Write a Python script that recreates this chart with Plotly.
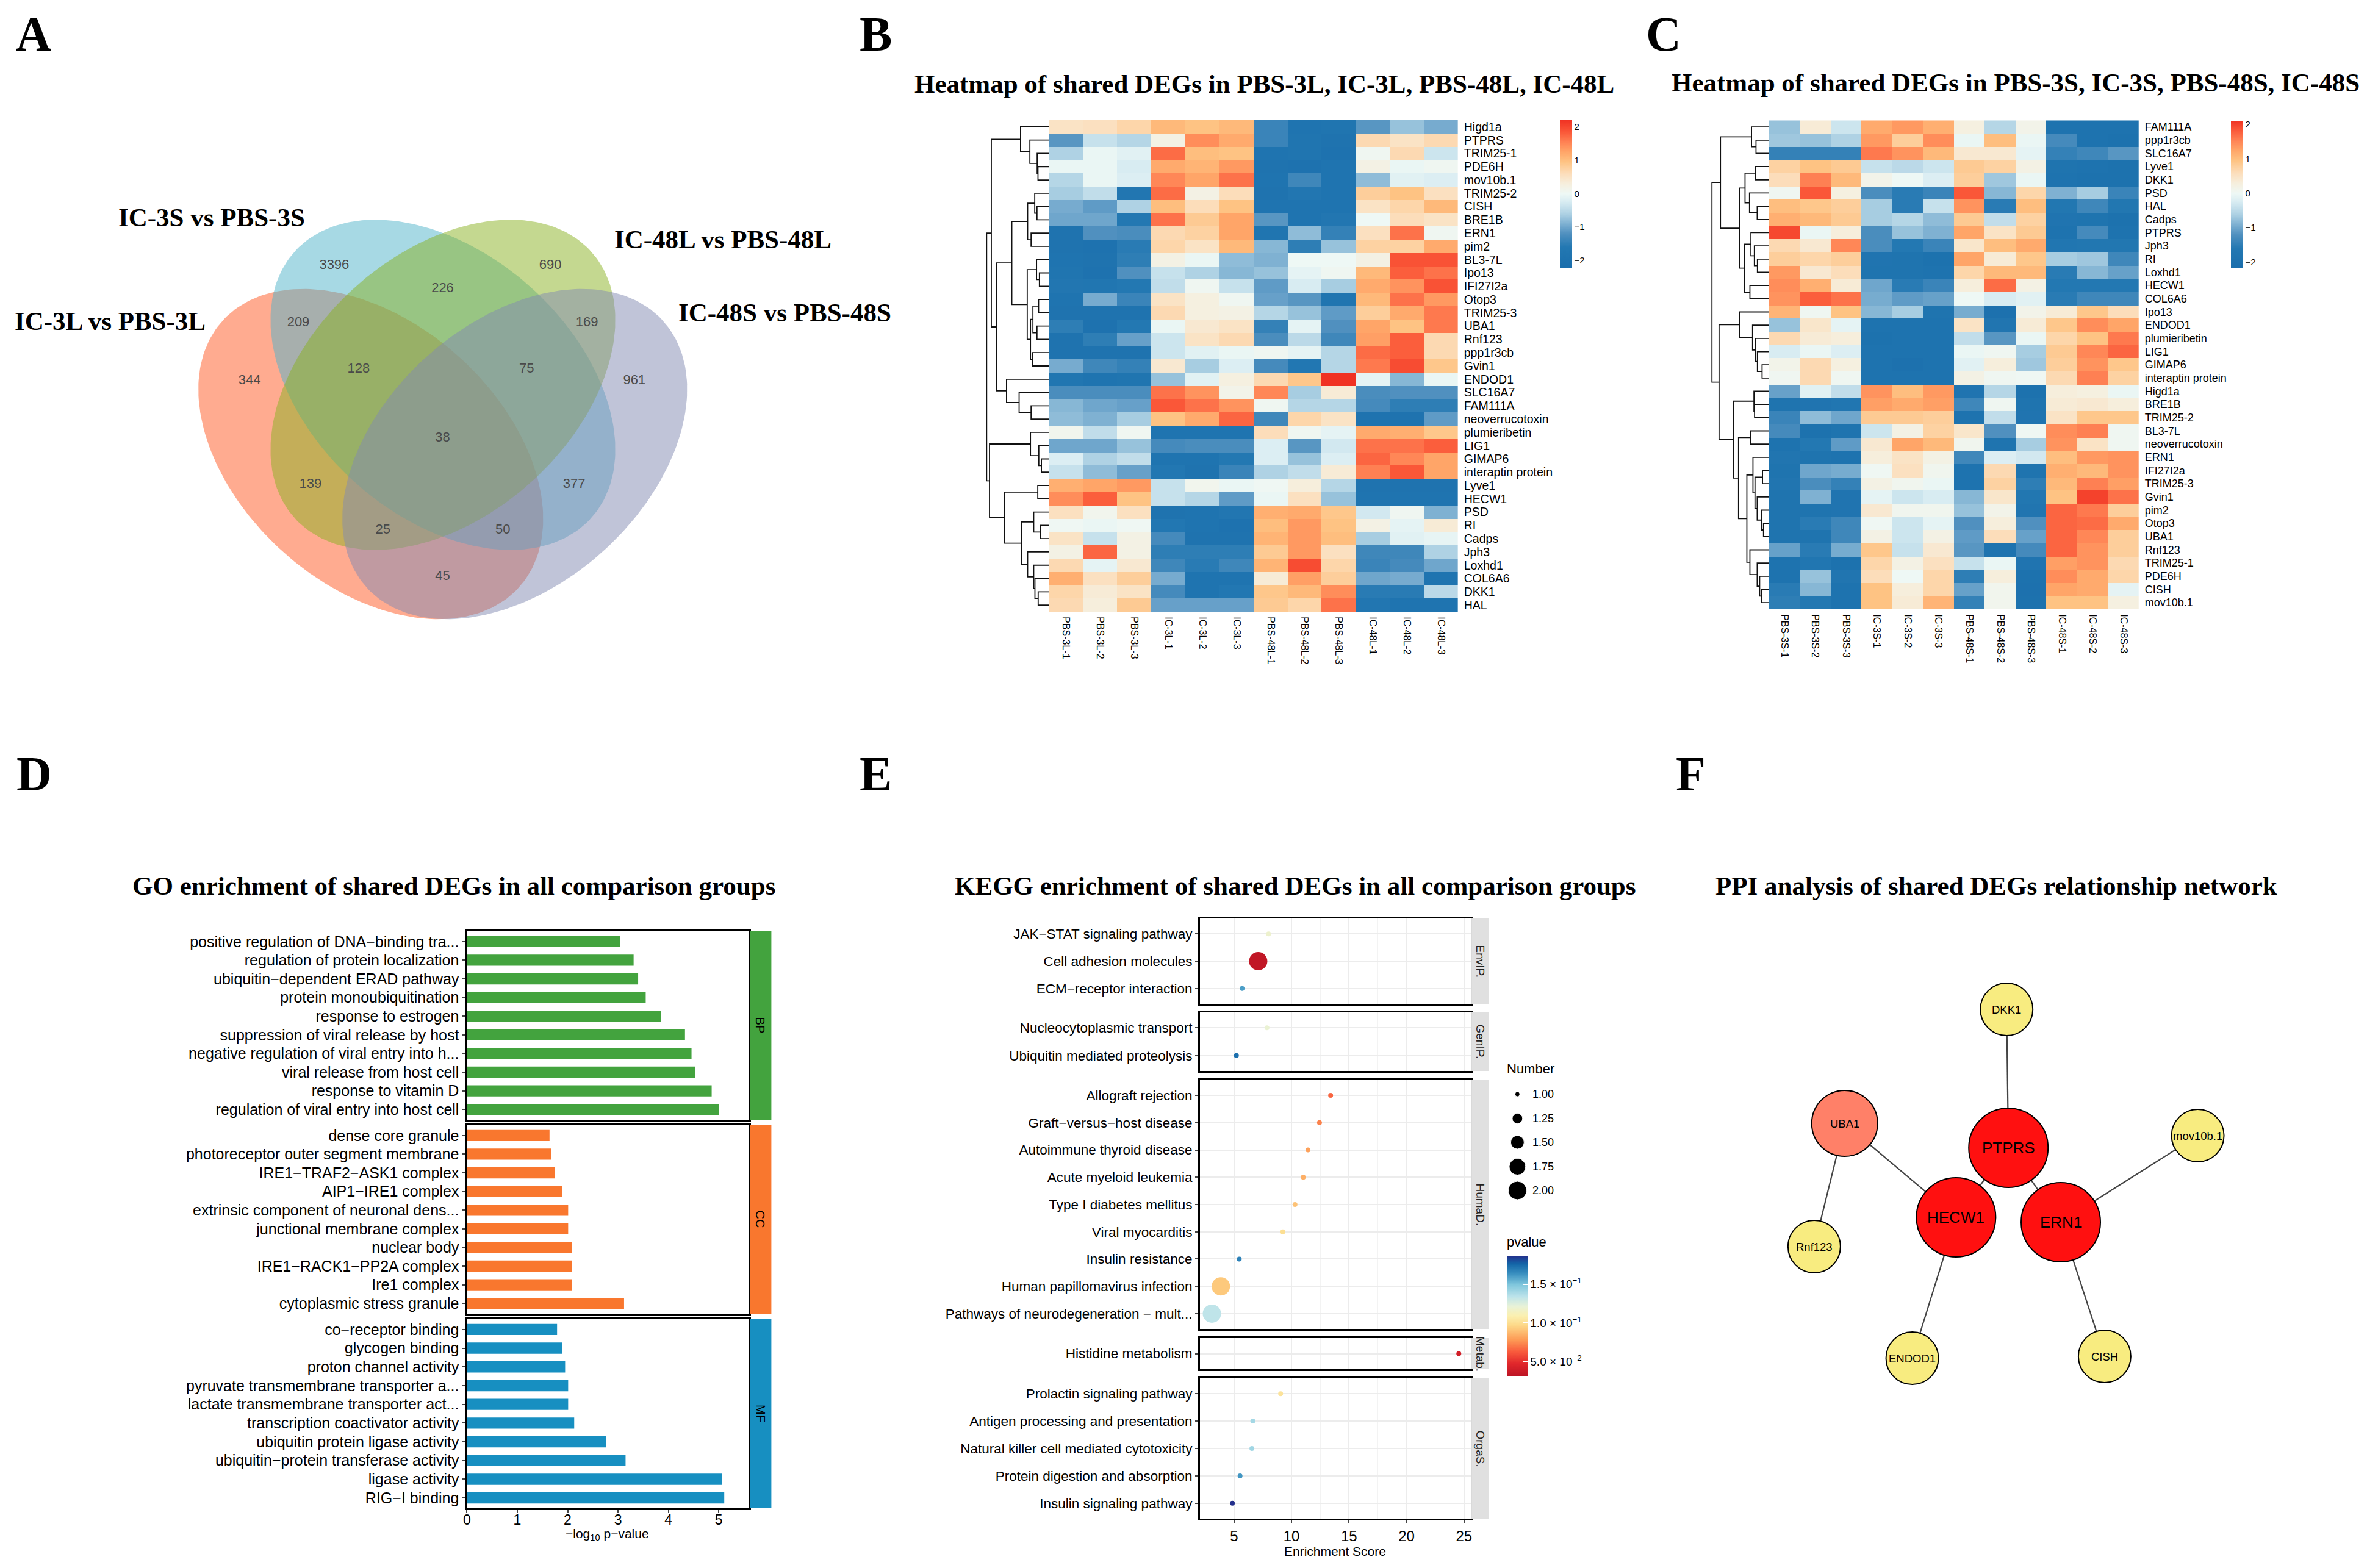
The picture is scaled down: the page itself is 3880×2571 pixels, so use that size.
import numpy as np
import plotly.graph_objects as go

W, H = 3880, 2571
SANS = "Liberation Sans"
SERIF = "Liberation Serif"

# ---------------- DATA ----------------
venn_labels = ["IC-3L vs PBS-3L", "IC-3S vs PBS-3S", "IC-48L vs PBS-48L", "IC-48S vs PBS-48S"]
venn_counts = [3396, 690, 226, 209, 169, 344, 128, 75, 961, 38, 139, 377, 25, 50, 45]

genes_b = ["Higd1a","PTPRS","TRIM25-1","PDE6H","mov10b.1","TRIM25-2","CISH","BRE1B","ERN1","pim2","BL3-7L","Ipo13","IFI27I2a","Otop3","TRIM25-3","UBA1","Rnf123","ppp1r3cb","Gvin1","ENDOD1","SLC16A7","FAM111A","neoverrucotoxin","plumieribetin","LIG1","GIMAP6","interaptin protein","Lyve1","HECW1","PSD","RI","Cadps","Jph3","Loxhd1","COL6A6","DKK1","HAL"]
samples_b = ["PBS-3L-1","PBS-3L-2","PBS-3L-3","IC-3L-1","IC-3L-2","IC-3L-3","PBS-48L-1","PBS-48L-2","PBS-48L-3","IC-48L-1","IC-48L-2","IC-48L-3"]
values_b = [
[.5,.55,.7,1.05,.95,1.05,-1.4,-1.85,-1.8,-1.15,-.75,-.95],
[-1.15,-.4,-.55,.2,1.45,1.2,-1.4,-1.8,-1.9,.65,.5,.65],
[-.6,-.05,-.15,1.7,1,.95,-1.85,-1.8,-1.95,.05,.65,-.35],
[-.05,-.05,-.25,1.2,1.1,1.35,-1.9,-1.95,-1.85,.2,-.05,.05],
[-.55,-.05,-.2,1.5,1.25,1.65,-1.85,-1.35,-1.85,-.8,-.15,-.2],
[-.65,-.45,-1.7,1.7,.2,.6,-1.9,-1.7,-1.85,.8,.95,.55],
[-.95,-1.1,-.6,1,.6,.95,-1.85,-1.85,-1.85,.5,.7,1.05],
[-1,-1,-1.6,1.65,.85,1.25,-1.15,-1.85,-1.7,0,.6,.5],
[-1.9,-1.2,-1.25,.65,.75,1.25,-1.8,-.8,-1.45,.55,1.65,.05],
[-1.9,-1.95,-1.55,.7,.5,1.05,-.85,-1.5,-.75,.75,.75,1.2],
[-1.85,-1.9,-1.5,.2,-.05,-.8,-.9,0,0,.2,1.9,1.9],
[-1.8,-1.95,-1.2,-.4,-.6,-.85,-.75,-.1,.05,1.05,1.8,1.65],
[-1.7,-1.75,-1.6,-.45,.05,-.4,-1.1,-.25,-.65,1.2,1.4,1.9],
[-1.85,-.95,-1.4,.5,.25,.05,-1.05,-1.15,-1.8,1.05,1.65,1.35],
[-1.9,-1.9,-1.9,.65,.25,.2,-.55,-.75,-1.1,.8,1.2,1.6],
[-1.5,-1.95,-1.6,-.05,.4,.5,-1.45,-.1,-1.2,1.25,.95,1.6],
[-1.9,-1.5,-1.05,-.35,.5,.65,-1.25,-.5,-1.35,1.3,1.8,.65],
[-1.9,-1.9,-1.9,-.35,-.15,-.05,.05,-.1,-.55,1.7,1.8,.65],
[-.95,-1.35,-1.45,.4,-.65,-.2,-1.3,-1.65,-.55,1.6,1.95,.9],
[-1.75,-1.85,-1.8,-.75,-.15,.25,.65,.9,2.2,-.1,-.85,-.05],
[-1.25,-1.25,-1.25,1.65,1.4,.15,1.5,-.65,.35,-1.25,-1.2,-1.2],
[-.85,-1,-1.05,1.85,1.65,1.4,.05,-.55,-.55,-1.3,-1.5,-1.5],
[-.8,-.9,-.65,.95,1.2,1.75,-1.35,.7,.5,-1.9,-1.9,-1.1],
[.1,-.45,.05,-1.85,-1.85,-1.85,.6,.05,-.1,1.2,1.15,.9],
[-1,-1,-.75,-1.3,-1.25,-1.25,-.2,-1.15,-.3,1.65,1.65,1.8],
[-.2,-.6,-.45,-1.85,-1.85,-1.6,-.2,-.75,-.2,1.75,1.5,1.25],
[-.4,-.8,-1.05,-1.65,-1.9,-1.4,-.6,-.45,.35,1.55,1.85,1.25],
[1.15,1.25,1.35,-.4,.1,-.05,.02,.3,-.55,-1.9,-1.9,-1.9],
[1.45,1.8,.95,-.4,-.55,-1.1,-.05,.55,-.75,-1.85,-1.85,-1.85],
[.55,.1,.55,-1.9,-1.85,-1.7,1.15,1.2,.9,-.3,.05,-.9],
[.02,-.05,.02,-1.65,-1.85,-1.95,1,1.35,.95,.2,-.1,.35],
[.5,-.4,.2,-1.3,-1.9,-1.9,1.1,1.35,1,-.65,-.15,-.08],
[.2,1.75,.2,-1.5,-1.5,-1.5,.85,1.35,.55,-1.35,-1.35,-.6],
[.65,-.1,.4,-1.35,-1.55,-1.35,1.1,1.95,.7,-1.4,-1.3,-1],
[1.15,.55,.8,-.95,-1.85,-1.85,.35,1.3,.8,-1,-.95,-1.85],
[.7,.35,.5,-1.3,-1.85,-1.65,.9,1.05,1.45,-1.55,-1.55,-.5],
[.65,.3,.85,-1.05,-1.05,-1.05,.85,.7,1.65,-1.7,-1.85,-1.85],
]
# dendrogram merge trees: (merge height, child, child); integers are leaf rows
tree_b = (308,
  (285,
    (141, 0, (95, 1, (59, 2, (55, 3, 4)))),
    (259,
      (184,
        (106, (71, 5, (60, 6, 7)), (89, 8, 9)),
        (108, (62, 10, (48, 11, 12)), (92, (80, (52, 13, 14), (60, 15, 16)), (82, 17, 18)))),
      (210, 19, (148, 20, (89, 21, 22))))),
  (294,
    (92, 23, (51, 24, (38, 25, 26))),
    (221,
      (56, 27, 28),
      (136,
        (76, 29, (43, 30, 31)),
        (106, 32, (76, 33, (70, 34, (54, 35, 36))))))))

genes_c = ["FAM111A","ppp1r3cb","SLC16A7","Lyve1","DKK1","PSD","HAL","Cadps","PTPRS","Jph3","RI","Loxhd1","HECW1","COL6A6","Ipo13","ENDOD1","plumieribetin","LIG1","GIMAP6","interaptin protein","Higd1a","BRE1B","TRIM25-2","BL3-7L","neoverrucotoxin","ERN1","IFI27I2a","TRIM25-3","Gvin1","pim2","Otop3","UBA1","Rnf123","TRIM25-1","PDE6H","CISH","mov10b.1"]
samples_c = ["PBS-3S-1","PBS-3S-2","PBS-3S-3","IC-3S-1","IC-3S-2","IC-3S-3","PBS-48S-1","PBS-48S-2","PBS-48S-3","IC-48S-1","IC-48S-2","IC-48S-3"]
values_c = [
[-.75,.35,-.35,1.2,1.35,1.15,.25,-.55,.15,-1.9,-1.9,-1.9],
[-.7,-.75,-.6,1.35,.8,1.45,-.05,1,-.05,-1.3,-1.9,-1.95],
[-1.45,-1.45,-1.45,1.6,1.4,1.05,.4,.4,-.1,-1.45,-1.35,-1.15],
[.75,.95,.85,-.4,-.5,-.35,.85,.75,.2,-1.85,-1.9,-1.95],
[.6,1.55,1.05,.15,0,-.2,.8,-.7,-.05,-1.9,-1.95,-1.95],
[.05,1.85,.25,-1.25,-1.55,-1.4,1.85,-.85,.7,-.9,-.65,-1.4],
[1,.9,.8,-.65,-1.55,-.4,1.4,-1.55,1,-1.65,-1.35,-1.65],
[1.15,1.05,.85,-.65,-.55,-.8,.85,-.45,.75,-1.8,-1.85,-1.95],
[1.95,-.05,.3,-1.25,-.75,-.9,1.25,.5,.85,-1.9,-1.3,-1.9],
[.65,.4,1.5,-1.25,-1.6,-1.4,.45,1,1.2,-1.7,-1.65,-1.65],
[.8,.7,.8,-1.8,-1.85,-1.95,1.25,.35,.9,-.65,-.7,-1.35],
[1.35,.4,.6,-1.85,-1.85,-1.9,.7,1.05,1.05,-1.55,-.85,-1.05],
[1.45,1.15,.35,-1,-1.55,-1.4,.3,1.7,.2,-1.6,-1.6,-1.6],
[1.4,1.8,1.65,-.95,-1.1,-1.05,0,-.25,-.15,-1.55,-1.35,-1.35],
[1.1,.05,.95,-.85,-.65,-1.85,-.95,-2,.15,.35,.9,.6],
[-.75,.45,-.1,-1.9,-1.9,-1.9,.5,-1.75,.35,.9,1.45,1.25],
[.65,.35,.3,-1.95,-1.9,-1.9,-.45,-1.15,-.05,.7,.95,1.6],
[-.25,-.05,-.2,-1.9,-1.9,-1.9,-.05,.05,-.65,.85,1.5,1.75],
[.15,.65,.25,-1.9,-2,-1.9,-.15,.3,-.7,.8,1.4,.9],
[.05,.65,.05,-1.9,-1.9,-1.9,.2,.05,.02,.65,1.55,.75],
[-1.05,-.15,-.45,1.4,1,1.35,-1.8,-.55,-1.95,.3,.25,-.05],
[-1.85,-1.8,-1.7,1.3,1.2,1.3,-1.35,.05,-1.85,.35,.4,.3],
[-1.4,-.8,-1,.85,.85,.8,-1.9,-.45,-1.8,.5,.9,.9],
[-1.3,-1.95,-1.85,-.35,.2,.75,.45,-1.2,.02,1.45,1.55,.05],
[-1.9,-1.6,-1.1,.4,1.25,1.05,.08,-1.85,-.65,1.4,.5,.05],
[-1.75,-1.85,-1.9,.3,.5,.2,-1.35,-.2,-.3,1,1.35,1.4],
[-1.85,-1,-.95,.02,.55,.08,-1.9,.65,-1.85,1.15,1.05,1.4],
[-1.75,-1.25,-1.45,.2,.08,-.05,-1.9,.75,-1.5,1.05,1.55,1.3],
[-1.85,-.9,-1.8,-.1,-.35,-.25,-.85,.45,-1.65,.95,2,1.65],
[-1.85,-1.85,-1.8,.4,.08,.08,-.75,.15,-1.75,1.75,1.6,.8],
[-1.85,-1.55,-1.35,.02,-.35,-.1,-1.2,.3,-1.2,1.75,1.7,1.2],
[-1.85,-1.85,-1.35,.2,-.35,.2,-1.1,.6,-1.05,1.75,1.5,.8],
[-1.05,-1.55,-.95,.9,-.4,.4,-1.15,-1.9,-1.3,1.75,1.4,.8],
[-1.9,-1.7,-1.95,.7,.2,.55,-.4,-.05,-1.8,1.3,1.4,.65],
[-1.9,-.75,-1.75,.6,0,.7,-1.5,.3,-1.95,1.45,1.2,.7],
[-1.55,-.85,-1.9,.95,.3,.7,-1.05,.1,-2,1.25,1.2,-.1],
[-1.5,-1.6,-1.9,.95,.35,1.1,-1.45,.1,-1.95,.95,.95,.25],
]
tree_c = (281,
  (239,
    (86, 0, (64, 1, 2)),
    (145,
      (118, (67, 3, 4), (96, 5, (58, 6, 7))),
      (121, (89, 8, (72, 9, (57, 10, 11))), (94, 12, 13)))),
  (246,
    (145, 14, (81, 15, (66, 16, (57, 17, (34, 18, 19))))),
    (176,
      (74, 20, (71, 21, 22)),
      (150,
        (91, 23, 24),
        (109,
          (79, 25, (69, (32, 26, 27), (58, 28, (38, 29, (27, 30, 31))))),
          (94, 32, (58, 33, (46, 34, (36, 35, 36)))))))))

go_bp_terms = ["positive regulation of DNA−binding tra...","regulation of protein localization","ubiquitin−dependent ERAD pathway","protein monoubiquitination","response to estrogen","suppression of viral release by host","negative regulation of viral entry into h...","viral release from host cell","response to vitamin D","regulation of viral entry into host cell"]
go_bp_values = [3.04,3.31,3.40,3.55,3.85,4.33,4.46,4.53,4.86,5.0]
go_cc_terms = ["dense core granule","photoreceptor outer segment membrane","IRE1−TRAF2−ASK1 complex","AIP1−IRE1 complex","extrinsic component of neuronal dens...","junctional membrane complex","nuclear body","IRE1−RACK1−PP2A complex","Ire1 complex","cytoplasmic stress granule"]
go_cc_values = [1.64,1.67,1.74,1.89,2.01,2.01,2.09,2.09,2.09,3.12]
go_mf_terms = ["co−receptor binding","glycogen binding","proton channel activity","pyruvate transmembrane transporter a...","lactate transmembrane transporter act...","transcription coactivator activity","ubiquitin protein ligase activity","ubiquitin−protein transferase activity","ligase activity","RIG−I binding"]
go_mf_values = [1.79,1.89,1.95,2.01,2.01,2.13,2.76,3.15,5.06,5.11]

kegg_envip = ["JAK−STAT signaling pathway","Cell adhesion molecules","ECM−receptor interaction"]
kegg_envip_score = [8.0,7.1,5.7]
kegg_envip_p = [.118,.033,.16]
kegg_envip_n = [1,2,1]
kegg_genip = ["Nucleocytoplasmic transport","Ubiquitin mediated proteolysis"]
kegg_genip_score = [7.86,5.2]
kegg_genip_p = [.12,.173]
kegg_genip_n = [1,1]
kegg_humad = ["Allograft rejection","Graft−versus−host disease","Autoimmune thyroid disease","Acute myeloid leukemia","Type I diabetes mellitus","Viral myocarditis","Insulin resistance","Human papillomavirus infection","Pathways of neurodegeneration − mult..."]
kegg_humad_score = [13.4,12.43,11.43,11.02,10.3,9.24,5.45,3.85,3.07]
kegg_humad_p = [.065,.072,.08,.084,.09,.10,.168,.092,.133]
kegg_humad_n = [1,1,1,1,1,1,1,2,2]
kegg_metab = ["Histidine metabolism"]
kegg_metab_score = [24.55]
kegg_metab_p = [.04]
kegg_metab_n = [1]
kegg_orgas = ["Prolactin signaling pathway","Antigen processing and presentation","Natural killer cell mediated cytotoxicity","Protein digestion and absorption","Insulin signaling pathway"]
kegg_orgas_score = [9.05,6.63,6.55,5.52,4.85]
kegg_orgas_p = [.102,.14,.141,.162,.187]
kegg_orgas_n = [1,1,1,1,1]
number_levels = [1.0,1.25,1.5,1.75,2.0]

ppi_nodes = ["DKK1","UBA1","PTPRS","mov10b.1","HECW1","ERN1","Rnf123","ENDOD1","CISH"]
ppi_edges = [("DKK1","PTPRS"),("PTPRS","HECW1"),("PTPRS","ERN1"),("UBA1","HECW1"),("UBA1","Rnf123"),("HECW1","ENDOD1"),("ERN1","CISH"),("ERN1","mov10b.1")]
ppi_degree = [1,2,3,1,3,3,1,1,1]

# ---------------- LAYOUT / STYLE ----------------
ppi_x = [3290,3024,3293,3604,3207,3379,2974,3135,3451]
ppi_y = [1655,1842,1882,1862,1996,2004,2044,2227,2224]
ppi_color = {1:"#F8EC80",2:"#FF8068",3:"#FF1010"}
ppi_size = {1:86,2:108,3:130}
ppi_font = {1:18.5,2:18.5,3:26}

venn_colors = ["rgba(255,87,33,.5)","rgba(79,179,201,.5)","rgba(137,177,33,.5)","rgba(129,137,177,.5)"]
venn_centers = [(603,744.5),(721.5,631),(721.5,631),(839.5,744.5)]
venn_tilt = [1,1,-1,-1]
venn_count_x = [543,898,721,484,958,404,583,859,1036,721,504,937,623,820,721]
venn_count_y = [435,435,473,529,529,624,605,605,624,718,794,794,869,869,945]
size_levels = [8,17,22,27,30]

heat_anchor_v = [-2.2,-1.6,-1.2,-1.0,-.6,-.25,0,.3,.6,.95,1.25,1.5,1.85,2.2]
heat_anchor_c = ["#1A6EAC","#2378B2","#5090BF","#6FA6CC","#AFD2E4","#D8ECF2","#EEF8F5","#F6EEDC","#FCDDBA","#FEC383","#FFA568","#FF8757","#FA5738","#F03223"]
pval_scale = [[0,"#BD1525"],[.1,"#E0262B"],[.2,"#F85A3C"],[.3,"#FD9A55"],[.42,"#FDD888"],[.5,"#FBF0B0"],[.58,"#E8F2D8"],[.66,"#BCE3EA"],[.76,"#7FC6DC"],[.85,"#3A90C0"],[.93,"#1366A8"],[1,"#232F8C"]]

def hx(x): return x/W
def hy(y): return 1-y/H

fig = go.Figure()
layout = dict(width=W, height=H, margin=dict(l=0,r=0,t=0,b=0), paper_bgcolor="white", plot_bgcolor="rgba(0,0,0,0)", showlegend=False, font=dict(family=SANS,color="black"))
shapes, annos = [], []
_n = [1]
def new_axes(x0,x1,y0,y1,xa=None,ya=None):
    _n[0]+=1
    n=_n[0]
    xd=dict(domain=[hx(x0),hx(x1)],anchor=f"y{n}")
    yd=dict(domain=[hy(y1),hy(y0)],anchor=f"x{n}")
    xd.update(xa or {}); yd.update(ya or {})
    layout[f"xaxis{n}"]=xd; layout[f"yaxis{n}"]=yd
    return f"x{n}",f"y{n}"

layout["xaxis"]=dict(domain=[0,1],range=[0,W],visible=False,fixedrange=True)
layout["yaxis"]=dict(domain=[0,1],range=[H,0],visible=False,fixedrange=True)

def text(x,y,t,size,family=SANS,anchor="left",bold=False,color="black",angle=0):
    annos.append(dict(x=x,y=y,xref="x",yref="y",text=f"<b>{t}</b>" if bold else t,showarrow=False,xanchor=anchor,yanchor="middle",
                      font=dict(family=family,size=size,color=color),textangle=angle,borderpad=0,borderwidth=0))

# panel letters + titles
for t,x,y in [("A",20,56),("B",1406,56),("C",2698,56),("D",21,1269),("E",1406,1269),("F",2747,1269)]:
    text(x,y,t,80,SERIF,bold=True)
for t,x0,x1,y in [("Heatmap of shared DEGs in PBS-3L, IC-3L, PBS-48L, IC-48L",1502,2640,137),
                ("Heatmap of shared DEGs in PBS-3S, IC-3S, PBS-48S, IC-48S",2744,3865,135),
                ("GO enrichment of shared DEGs in all comparison groups",215,1264,1452),
                ("KEGG enrichment of shared DEGs in all comparison groups",1566,2677,1452),
                ("PPI analysis of shared DEGs relationship network",2815,3731,1452)]:
    text((x0+x1)/2,y,t,43,SERIF,anchor="center",bold=True)

# ---- Venn
a,b=327,216
sx,sy=1.022,.977
t=np.linspace(0,2*np.pi,241)
for (cx,cy),s,c in zip(venn_centers,venn_tilt,venn_colors):
    u,v=a*np.cos(t),b*np.sin(t)
    ex=cx+sx*s*(u-v)/np.sqrt(2)
    ey=cy+sy*(u+v)/np.sqrt(2)
    fig.add_trace(go.Scatter(x=ex.tolist(),y=ey.tolist(),mode="lines",fill="toself",fillcolor=c,line=dict(width=0),xaxis="x",yaxis="y",hoverinfo="skip"))
fig.add_trace(go.Scatter(x=venn_count_x,y=venn_count_y,mode="text",text=[str(v) for v in venn_counts],textposition="middle center",textfont=dict(family=SANS,size=22,color="#4a4a4a"),xaxis="x",yaxis="y"))
for t_,x,y in zip(venn_labels,[18,188,1003,1108],[526,356,392,512]):
    text(x,y,t_,43,SERIF,bold=True)

# ---- Heatmaps
def scale_for(zmin,zmax):
    pos=[min(1,max(0,(v-zmin)/(zmax-zmin))) for v in heat_anchor_v]
    pos[0],pos[-1]=0,1
    return [[p,c] for p,c in zip(pos,heat_anchor_c)]

def dendro(tree):
    xs,ys=[],[]
    def walk(n):
        if isinstance(n,int): return 0,n
        h,l,r=n
        hl,yl=walk(l); hr,yr=walk(r)
        xs.extend([hl,h,h,hr,None]); ys.extend([yl,yl,yr,yr,None])
        return h,(yl+yr)/2
    walk(tree)
    return xs,ys

def heatmap(vals,genes,samples,tree,hrange,dx0,hx0,hx1,y0,y1,zmin,zmax,cbx,cby0,cby1,lab):
    xa,ya=new_axes(hx0,hx1,y0,y1,
        dict(type="category",side="bottom",tickangle=90,ticks="outside",ticklen=4,tickcolor="rgba(0,0,0,0)",tickfont=dict(family=SANS,size=16),categoryorder="array",categoryarray=samples,showgrid=False,zeroline=False,fixedrange=True),
        dict(type="category",side="right",range=[36.5,-.5],ticks="outside",ticklen=5,tickcolor="rgba(0,0,0,0)",tickfont=dict(family=SANS,size=lab),categoryorder="array",categoryarray=genes,showgrid=False,zeroline=False,fixedrange=True,dtick=1))
    fig.add_trace(go.Heatmap(z=vals,x=samples,y=genes,xaxis=xa,yaxis=ya,zmin=zmin,zmax=zmax,colorscale=scale_for(zmin,zmax),xgap=0,ygap=0,
        colorbar=dict(x=hx(cbx),xanchor="left",y=hy(cby0),yanchor="top",lenmode="pixels",len=cby1-cby0,thickness=20,thicknessmode="pixels",xpad=0,ypad=0,outlinewidth=0,tickvals=[-2,-1,0,1,2],ticktext=["−2","−1","0","1","2"],ticks="",ticklabelposition="outside",tickfont=dict(family=SANS,size=15))))
    dxa,dya=new_axes(dx0,hx0,y0,y1,dict(range=[hrange,0],visible=False,fixedrange=True),dict(range=[36.5,-.5],visible=False,fixedrange=True))
    xs,ys=dendro(tree)
    fig.add_trace(go.Scatter(x=xs,y=ys,mode="lines",line=dict(color="#111111",width=1.8),xaxis=dxa,yaxis=dya,hoverinfo="skip",connectgaps=False))

heatmap(values_b,genes_b,samples_b,tree_b,352,1600,1717.3,2388.8,197,1003,-2.22,2.2,2556,197,439,19.5)
heatmap(values_c,genes_c,samples_c,tree_c,329,2790,2899.7,3507.4,197.3,999,-2.16,2.11,3659,197.6,439,18)

# ---- GO bars
go_x_range=[0,5.61]
def gobar(terms,vals,color,y0,y1,strip,last=False):
    n=len(terms)
    xa,ya=new_axes(761,1225,y0,y1,
        dict(range=go_x_range,showgrid=False,zeroline=False,showline=True,mirror=True,linecolor="black",linewidth=3,ticks="outside" if last else "",ticklen=4,tickwidth=2,tickvals=[0,1,2,3,4,5] if last else [],tickfont=dict(family=SANS,size=23),ticklabelstandoff=-8,fixedrange=True),
        dict(type="category",range=[n-1+.55,-.55],categoryorder="array",categoryarray=terms,showgrid=False,zeroline=False,showline=True,mirror=True,linecolor="black",linewidth=3,ticks="outside",ticklen=5,tickwidth=2,tickfont=dict(family=SANS,size=25),fixedrange=True,dtick=1))
    fig.add_trace(go.Bar(x=vals,y=terms,orientation="h",width=.6,marker=dict(color=color,line=dict(width=0)),xaxis=xa,yaxis=ya))
    shapes.append(dict(type="rect",xref="x",yref="y",x0=1226,x1=1261,y0=y0,y1=y1,fillcolor=color,line=dict(width=0)))
    text(1243.5,(y0+y1)/2,strip,20,angle=90,anchor="center")

gobar(go_bp_terms,go_bp_values,"#43A33E",1527,1836,"BP")
gobar(go_cc_terms,go_cc_values,"#F9772E",1845,2154,"CC")
gobar(go_mf_terms,go_mf_values,"#178FC1",2163,2473,"MF",True)
text(992,2516,"−log<sub>10</sub> p−value",21,anchor="center")

# ---- KEGG dots
layout["coloraxis"]=dict(cmin=.031,cmax=.187,colorscale=pval_scale,
    colorbar=dict(x=hx(2470),xanchor="left",y=hy(2059),yanchor="top",lenmode="pixels",len=197,thicknessmode="pixels",thickness=33,xpad=0,ypad=0,outlinewidth=0,
        tickvals=[.05,.10,.15],ticktext=["5.0 × 10<sup>−2</sup>","1.0 × 10<sup>−1</sup>","1.5 × 10<sup>−1</sup>"],ticks="inside",ticklen=7,tickwidth=1.5,tickcolor="white",tickfont=dict(family=SANS,size=19)))
def dots(terms,score,p,num,y0,y1,strip,last=False):
    n=len(terms)
    xa,ya=new_axes(1965,2410,y0,y1,
        dict(range=[2.03,25.6],tickvals=[5,10,15,20,25],showticklabels=last,showgrid=True,gridcolor="#ECECEC",gridwidth=2,minor=dict(tickvals=[2.5,7.5,12.5,17.5,22.5],showgrid=True,gridcolor="#F3F3F3",gridwidth=1),zeroline=False,showline=True,mirror=True,linecolor="black",linewidth=3,ticks="outside" if last else "",ticklen=5,tickwidth=2,tickfont=dict(family=SANS,size=24),fixedrange=True),
        dict(type="category",range=[n-1+.56,-.56],categoryorder="array",categoryarray=terms,showgrid=True,gridcolor="#ECECEC",gridwidth=2,zeroline=False,showline=True,mirror=True,linecolor="black",linewidth=3,ticks="outside",ticklen=5,tickwidth=2,tickfont=dict(family=SANS,size=22.5),fixedrange=True,dtick=1))
    fig.add_trace(go.Scatter(x=score,y=terms,mode="markers",marker=dict(size=np.interp(num,number_levels,size_levels).tolist(),color=p,coloraxis="coloraxis",opacity=1,line=dict(width=0)),xaxis=xa,yaxis=ya))
    shapes.append(dict(type="rect",xref="x",yref="y",x0=2411,x1=2440,y0=y0,y1=y1,fillcolor="#E0E0E0",line=dict(width=0)))
    text(2425.5,(y0+y1)/2,strip,19,angle=90,anchor="center",color="#222222")

dots(kegg_envip,kegg_envip_score,kegg_envip_p,kegg_envip_n,1506,1646,"EnvIP.")
dots(kegg_genip,kegg_genip_score,kegg_genip_p,kegg_genip_n,1660,1756,"GenIP.")
dots(kegg_humad,kegg_humad_score,kegg_humad_p,kegg_humad_n,1771,2179,"HumaD.")
dots(kegg_metab,kegg_metab_score,kegg_metab_p,kegg_metab_n,2194,2245,"Metab.")
dots(kegg_orgas,kegg_orgas_score,kegg_orgas_p,kegg_orgas_n,2260,2490,"OrgaS.",True)
text(2187,2543,"Enrichment Score",21,anchor="center")
text(2469,1752,"Number",22)
text(2469,2036,"pvalue",22)
legend_y=[1794,1834,1873,1913,1952]
fig.add_trace(go.Scatter(x=[2486.5]*5,y=legend_y,mode="markers",marker=dict(size=size_levels,color="black",opacity=1),xaxis="x",yaxis="y"))
for lv,y in zip(number_levels,legend_y):
    text(2511,y,f"{lv:.2f}",18)

# ---- PPI network
idx={n:i for i,n in enumerate(ppi_nodes)}
ex,ey=[],[]
for p,q in ppi_edges:
    ex+=[ppi_x[idx[p]],ppi_x[idx[q]],None]; ey+=[ppi_y[idx[p]],ppi_y[idx[q]],None]
fig.add_trace(go.Scatter(x=ex,y=ey,mode="lines",line=dict(color="#444444",width=2.2),xaxis="x",yaxis="y",hoverinfo="skip"))
fig.add_trace(go.Scatter(x=ppi_x,y=ppi_y,mode="markers",marker=dict(size=[ppi_size[d] for d in ppi_degree],color=[ppi_color[d] for d in ppi_degree],opacity=1,line=dict(color="black",width=2)),xaxis="x",yaxis="y"))
for n,x,y,d in zip(ppi_nodes,ppi_x,ppi_y,ppi_degree):
    text(x,y,n,ppi_font[d],anchor="center")

layout["shapes"]=shapes
layout["annotations"]=annos
fig.update_layout(**layout)
fig.write_html("out.html",config={"displayModeBar":False},post_script="document.body.style.margin='0';document.documentElement.style.overflow='hidden';var g=document.querySelector('.plotly-graph-div');g.style.position='fixed';g.style.left='0';g.style.top='0';")
